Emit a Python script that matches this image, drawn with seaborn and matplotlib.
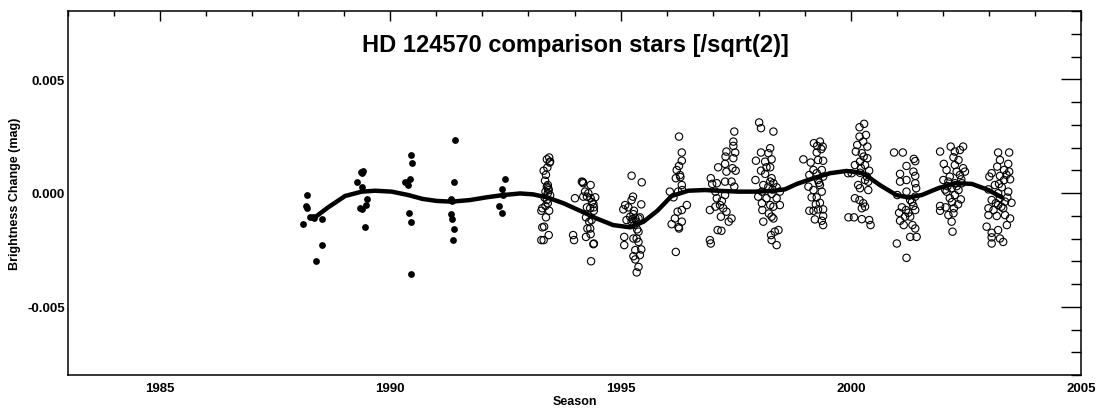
import matplotlib
matplotlib.use("Agg")
import matplotlib.pyplot as plt
import seaborn as sns
from matplotlib.ticker import MultipleLocator, FixedLocator

# ---------------- data ----------------
title_text = "HD 124570 comparison stars [/sqrt(2)]"
x_label = "Season"
y_label = "Brightness Change (mag)"
x_ticks = [1985, 1990, 1995, 2000, 2005]
x_tick_labels = ["1985", "1990", "1995", "2000", "2005"]
y_ticks = [-0.005, 0.0, 0.005]
y_tick_labels = ["-0.005", "0.000", "0.005"]

# early seasons (filled dots)
early_x = [1988.19, 1988.17, 1988.20, 1988.11, 1988.26, 1988.31, 1988.34, 1988.51, 1988.51, 1988.39,
           1989.27, 1989.36, 1989.41, 1989.38, 1989.39, 1989.49, 1989.47, 1989.35, 1989.38, 1989.46,
           1990.45, 1990.47, 1990.42, 1990.32, 1990.38, 1990.41, 1990.44, 1990.44,
           1991.40, 1991.38, 1991.31, 1991.33, 1991.32, 1991.33, 1991.38, 1991.36,
           1992.48, 1992.43, 1992.44, 1992.35, 1992.43]
early_y = [-0.000075, -0.00057, -0.00065, -0.00137, -0.00107, -0.00104, -0.00112, -0.00115, -0.00229, -0.00300,
           0.00048, 0.00094, 0.00097, 0.00089, 0.00025, -0.00028, -0.00053, -0.00065, -0.00072, -0.00150,
           0.00169, 0.00133, 0.00062, 0.00050, 0.00035, -0.00087, -0.00129, -0.00355,
           0.00232, 0.00048, -0.00028, -0.00034, -0.00094, -0.00115, -0.00157, -0.00207,
           0.00062, 0.00019, -0.00009, -0.00059, -0.00087]

# later seasons (open circles), per season
s1993_x = [1993.40, 1993.45, 1993.46, 1993.47, 1993.41, 1993.33, 1993.36, 1993.42, 1993.40, 1993.44,
           1993.37, 1993.42, 1993.40, 1993.42, 1993.37, 1993.30, 1993.45, 1993.28, 1993.38, 1993.30,
           1993.44, 1993.28, 1993.33, 1993.38, 1993.43, 1993.35, 1993.47, 1993.34]
s1993_y = [0.00148, 0.00156, 0.00134, 0.00138, 0.00112, 0.00098, 0.00054, 0.00035, 0.00028, 0.00013,
           0.00006, -0.00001, -0.00031, -0.00045, -0.00057, -0.00067, -0.00078, -0.00078, -0.00107, -0.00151,
           -0.00185, -0.00207, -0.00207, 0.00080, 0.00020, -0.00020, -0.00010, -0.00148]

s1994_x = [1994.16, 1994.19, 1994.35, 1994.23, 1994.30, 1994.27, 1994.19, 1994.01, 1994.35, 1994.45,
           1994.41, 1994.42, 1994.34, 1994.27, 1994.42, 1994.25, 1994.37, 1994.32, 1994.28, 1994.34,
           1994.25, 1994.35, 1993.97, 1993.99, 1994.42, 1994.41, 1994.36, 1994.18, 1994.38]
s1994_y = [0.00050, 0.00043, 0.00035, 0.00006, -0.00001, -0.00016, -0.00016, -0.00023, -0.00023, -0.00019,
           -0.00048, -0.00063, -0.00067, -0.00063, -0.00078, -0.00107, -0.00119, -0.00126, -0.00156, -0.00156,
           -0.00193, -0.00181, -0.00185, -0.00207, -0.00222, -0.00225, -0.00300, 0.00048, -0.00040]

s1995_x = [1995.24, 1995.46, 1995.27, 1995.24, 1995.10, 1995.17, 1995.06, 1995.45, 1995.29, 1995.28,
           1995.21, 1995.13, 1995.32, 1995.39, 1995.42, 1995.24, 1995.35, 1995.39, 1995.28, 1995.35,
           1995.08, 1995.08, 1995.39, 1995.45, 1995.32, 1995.28, 1995.42, 1995.32, 1995.39, 1995.35,
           1995.30, 1995.36, 1995.26]
s1995_y = [0.00076, 0.00047, -0.00016, -0.00031, -0.00053, -0.00063, -0.00072, -0.00050, -0.00078, -0.00093,
           -0.00104, -0.00119, -0.00112, -0.00112, -0.00107, -0.00126, -0.00126, -0.00170, -0.00200, -0.00200,
           -0.00193, -0.00229, -0.00215, -0.00248, -0.00251, -0.00278, -0.00273, -0.00292, -0.00325, -0.00349,
           -0.00140, -0.00160, -0.00115]

s1996_x = [1996.27, 1996.33, 1996.33, 1996.27, 1996.22, 1996.29, 1996.20, 1996.33, 1996.34, 1996.07,
           1996.25, 1996.15, 1996.44, 1996.33, 1996.24, 1996.18, 1996.33, 1996.11, 1996.27, 1996.20,
           1996.30, 1996.26]
s1996_y = [0.00248, 0.00178, 0.00142, 0.00119, 0.00101, 0.00079, 0.00065, 0.00035, 0.00013, 0.00006,
           0.00006, -0.00019, -0.00053, -0.00075, -0.00082, -0.00112, -0.00126, -0.00137, -0.00156, -0.00259,
           0.00070, -0.00150]

s1997_x = [1997.47, 1997.45, 1997.45, 1997.49, 1997.30, 1997.45, 1997.27, 1997.12, 1997.43, 1997.30,
           1997.50, 1996.96, 1997.27, 1997.41, 1996.99, 1997.09, 1997.47, 1997.06, 1997.27, 1997.09,
           1997.16, 1997.23, 1997.06, 1996.94, 1997.30, 1997.18, 1997.41, 1997.35, 1997.11, 1997.19,
           1996.94, 1996.96, 1997.28, 1997.20]
s1997_y = [0.00270, 0.00226, 0.00207, 0.00178, 0.00182, 0.00153, 0.00128, 0.00113, 0.00109, 0.00094,
           0.00098, 0.00065, 0.00050, 0.00050, 0.00040, 0.00043, 0.00028, 0.00006, -0.00009, -0.00023,
           -0.00053, -0.00067, -0.00060, -0.00075, -0.00082, -0.00104, -0.00112, -0.00126, -0.00163, -0.00166,
           -0.00207, -0.00222, 0.00160, -0.00035]

s1998_x = [1998.01, 1998.05, 1998.32, 1998.25, 1998.05, 1998.21, 1998.28, 1997.94, 1998.14, 1998.17,
           1998.25, 1998.05, 1998.14, 1998.28, 1997.93, 1998.25, 1998.32, 1998.10, 1998.21, 1998.39,
           1998.07, 1998.46, 1998.28, 1997.99, 1998.17, 1998.39, 1998.07, 1998.25, 1998.32, 1998.46,
           1998.08, 1998.28, 1998.32, 1998.10, 1998.43, 1998.35, 1998.27, 1998.28, 1998.39, 1998.30,
           1998.22]
s1998_y = [0.00310, 0.00285, 0.00270, 0.00197, 0.00178, 0.00175, 0.00148, 0.00142, 0.00138, 0.00113,
           0.00113, 0.00098, 0.00084, 0.00065, 0.00057, 0.00050, 0.00043, 0.00035, 0.00028, 0.00025,
           0.00006, 0.00006, -0.00004, -0.00016, -0.00023, -0.00023, -0.00045, -0.00053, -0.00060, -0.00053,
           -0.00075, -0.00104, -0.00112, -0.00126, -0.00163, -0.00170, -0.00185, -0.00207, -0.00229, 0.00015,
           -0.00090]

s1999_x = [1999.20, 1999.33, 1999.39, 1999.27, 1999.36, 1999.26, 1998.97, 1999.29, 1999.40, 1999.13,
           1999.19, 1999.37, 1999.26, 1999.10, 1999.40, 1999.29, 1999.08, 1999.33, 1999.19, 1999.37,
           1999.15, 1999.26, 1999.33, 1999.40, 1999.10, 1999.19, 1999.29, 1999.40, 1999.22, 1999.37,
           1999.40, 1999.31, 1999.24]
s1999_y = [0.00219, 0.00226, 0.00204, 0.00207, 0.00193, 0.00178, 0.00148, 0.00145, 0.00142, 0.00134,
           0.00101, 0.00101, 0.00087, 0.00079, 0.00072, 0.00057, 0.00028, 0.00035, 0.00013, 0.00006,
           -0.00019, -0.00019, -0.00043, -0.00072, -0.00078, -0.00078, -0.00072, -0.00101, -0.00116, -0.00122,
           -0.00141, 0.00045, -0.00050]

s2000_x = [2000.29, 2000.19, 2000.33, 2000.19, 2000.27, 2000.14, 2000.36, 2000.11, 2000.24, 2000.36,
           2000.20, 2000.31, 2000.09, 2000.40, 1999.94, 2000.20, 2000.02, 2000.35, 2000.31, 2000.38,
           2000.16, 2000.20, 2000.38, 2000.09, 2000.19, 2000.27, 2000.24, 2000.31, 1999.95, 2000.07,
           2000.24, 2000.40, 2000.43, 2000.22, 2000.28]
s2000_y = [0.00304, 0.00289, 0.00255, 0.00248, 0.00226, 0.00211, 0.00204, 0.00182, 0.00175, 0.00153,
           0.00138, 0.00123, 0.00123, 0.00098, 0.00087, 0.00089, 0.00087, 0.00072, 0.00057, 0.00050,
           0.00035, 0.00021, 0.00013, -0.00023, -0.00031, -0.00045, -0.00067, -0.00060, -0.00107, -0.00107,
           -0.00115, -0.00119, -0.00141, 0.00110, 0.00160]

s2001_x = [2000.94, 2001.13, 2001.37, 2001.40, 2001.21, 2001.07, 2001.36, 2001.40, 2001.07, 2001.21,
           2001.40, 2001.42, 2001.21, 2001.01, 2001.40, 2001.29, 2001.11, 2001.36, 2001.20, 2001.05,
           2001.25, 2001.40, 2001.18, 2001.29, 2001.07, 2001.15, 2001.34, 2001.40, 2001.00, 2001.29,
           2001.43, 2001.21, 2001.33]
s2001_y = [0.00178, 0.00178, 0.00150, 0.00140, 0.00119, 0.00084, 0.00094, 0.00075, 0.00050, 0.00057,
           0.00043, 0.00021, 0.00006, -0.00009, -0.00016, -0.00031, -0.00063, -0.00057, -0.00075, -0.00087,
           -0.00087, -0.00075, -0.00104, -0.00104, -0.00122, -0.00141, -0.00141, -0.00156, -0.00222, -0.00193,
           -0.00193, -0.00285, -0.00040]

s2002_x = [2001.94, 2002.17, 2002.44, 2002.26, 2002.37, 2002.23, 2002.34, 2002.02, 2002.26, 2002.44,
           2002.08, 2002.30, 2002.48, 2002.15, 2002.37, 2002.01, 2002.12, 2002.26, 2002.41, 2002.19,
           2002.34, 2002.08, 2002.26, 2002.39, 2002.15, 2001.94, 2002.06, 2002.24, 2001.94, 2002.12,
           2002.23, 2002.19, 2002.21, 2002.30, 2002.10, 2002.40, 2002.20, 2002.05, 2002.33]
s2002_y = [0.00182, 0.00204, 0.00204, 0.00182, 0.00189, 0.00157, 0.00145, 0.00128, 0.00123, 0.00109,
           0.00101, 0.00094, 0.00094, 0.00072, 0.00079, 0.00057, 0.00050, 0.00043, 0.00043, 0.00021,
           0.00013, 0.00006, -0.00009, -0.00028, -0.00023, -0.00057, -0.00063, -0.00067, -0.00078, -0.00097,
           -0.00089, -0.00126, -0.00170, 0.00030, 0.00030, 0.00060, -0.00040, 0.00015, -0.00050]

s2003_x = [2003.20, 2003.44, 2003.24, 2003.42, 2003.18, 2003.33, 2003.06, 2003.44, 2003.24, 2003.46,
           2003.01, 2003.33, 2003.13, 2003.28, 2002.99, 2003.20, 2003.42, 2003.24, 2003.06, 2003.35,
           2003.49, 2003.20, 2002.99, 2003.10, 2003.31, 2002.99, 2003.17, 2003.35, 2003.46, 2002.95,
           2003.06, 2003.20, 2003.39, 2003.06, 2003.24, 2003.06, 2003.31, 2003.38, 2003.27, 2003.15,
           2003.40, 2003.22]
s2003_y = [0.00178, 0.00178, 0.00145, 0.00128, 0.00116, 0.00101, 0.00087, 0.00094, 0.00075, 0.00060,
           0.00072, 0.00057, 0.00035, 0.00025, 0.00016, -0.00001, 0.00006, -0.00023, -0.00031, -0.00038,
           -0.00043, -0.00053, -0.00067, -0.00075, -0.00067, -0.00097, -0.00101, -0.00097, -0.00112, -0.00148,
           -0.00175, -0.00163, -0.00141, -0.00195, -0.00200, -0.00222, -0.00215, 0.00080, -0.00060, -0.00045,
           -0.00020, 0.00040]

# smooth fit curve
curve_x = [1988.33, 1988.65, 1989.02, 1989.38, 1989.67, 1990.03, 1990.39, 1990.70, 1991.01, 1991.33,
           1991.73, 1992.09, 1992.45, 1992.82, 1993.10, 1993.40, 1993.76, 1994.12, 1994.48, 1994.84,
           1995.21, 1995.50, 1995.80, 1996.11, 1996.47, 1996.83, 1997.20, 1997.56, 1997.92, 1998.28,
           1998.57, 1998.83, 1999.19, 1999.55, 1999.91, 2000.27, 2000.63, 2000.99, 2001.25, 2001.54,
           2001.90, 2002.26, 2002.63, 2002.99, 2003.28]
curve_y = [-0.00112, -0.00063, -0.00013, 0.00006, 0.00010, 0.00006, -0.00009, -0.00026, -0.00035, -0.00038,
           -0.00031, -0.00019, -0.00009, -0.00002, -0.00006, -0.00019, -0.00045, -0.00078, -0.00112, -0.00141,
           -0.00151, -0.00126, -0.00078, -0.00013, 0.00010, 0.00013, 0.00009, 0.00006, 0.00006, 0.00009,
           0.00016, 0.00040, 0.00065, 0.00087, 0.00097, 0.00087, 0.00035, -0.00009, -0.00020, -0.00009,
           0.00021, 0.00043, 0.00040, 0.00013, -0.00019]

# ---------------- plot ----------------
sns.set_style("white")
plt.rcParams['font.family'] = ['Liberation Sans', 'DejaVu Sans']

open_x = s1993_x + s1994_x + s1995_x + s1996_x + s1997_x + s1998_x + s1999_x + s2000_x + s2001_x + s2002_x + s2003_x
open_y = s1993_y + s1994_y + s1995_y + s1996_y + s1997_y + s1998_y + s1999_y + s2000_y + s2001_y + s2002_y + s2003_y

fig = plt.figure(figsize=(10.99, 4.10), dpi=100)
ax = fig.add_axes([68 / 1099, 34 / 410, (1081 - 68) / 1099, (376 - 12) / 410])

sns.scatterplot(x=early_x, y=early_y, ax=ax, color="black", s=24, linewidth=0, marker="o", zorder=3)
sns.scatterplot(x=open_x, y=open_y, ax=ax, color="black", s=28, linewidth=0.8, marker="o", zorder=3)
coll = ax.collections[-1]
coll.set_facecolor("none")
coll.set_edgecolor("black")

sns.lineplot(x=curve_x, y=curve_y, ax=ax, color="black", linewidth=3.2, sort=False,
             estimator=None, zorder=4)

ax.set_xlim(1983, 2005)
ax.set_ylim(-0.008, 0.008)
ax.xaxis.set_major_locator(FixedLocator(x_ticks))
ax.set_xticklabels(x_tick_labels)
ax.xaxis.set_minor_locator(MultipleLocator(1))
ax.yaxis.set_major_locator(FixedLocator(y_ticks))
ax.set_yticklabels(y_tick_labels)
ax.yaxis.set_minor_locator(MultipleLocator(0.001))

ax.tick_params(axis="both", which="both", direction="in", top=True, right=True,
               colors="black", width=1.0, labelsize=9.5)
ax.tick_params(axis="x", which="major", length=7.5, pad=5)
ax.tick_params(axis="x", which="minor", length=3.8)
ax.tick_params(axis="y", which="major", length=14.5, pad=2)
ax.tick_params(axis="y", which="minor", length=7.2)
for lab in ax.get_xticklabels() + ax.get_yticklabels():
    lab.set_fontweight("bold")
    lab.set_color("black")

for sp in ax.spines.values():
    sp.set_color("black")
    sp.set_linewidth(1.1)

ax.set_xlabel(x_label, fontsize=9, fontweight="bold", labelpad=1, color="black")
ax.set_ylabel(y_label, fontsize=9, fontweight="bold", labelpad=5, color="black")
ax.text(0.501, 0.909, title_text, transform=ax.transAxes, ha="center", va="center",
        fontsize=17, fontweight="bold", color="black")

fig.savefig("out.png", dpi=100)
